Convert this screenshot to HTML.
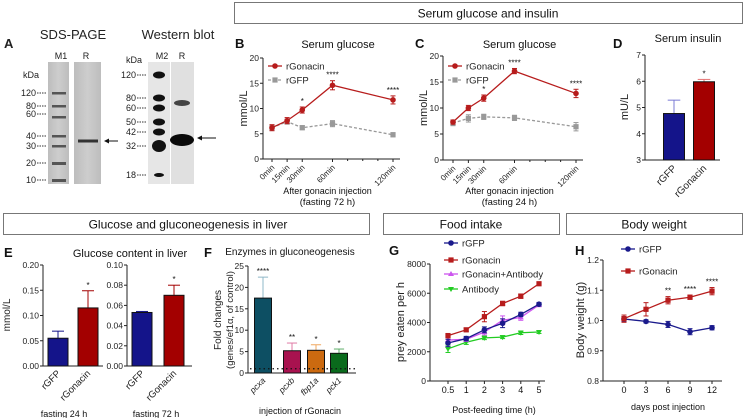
<!DOCTYPE html>
<html><head><meta charset="utf-8"><style>
html,body{margin:0;padding:0;background:#fff;}
svg{display:block;font-family:"Liberation Sans",sans-serif;}
</style></head><body>
<svg id="fig" width="744" height="418" viewBox="0 0 744 418" xmlns="http://www.w3.org/2000/svg">
<defs>
<linearGradient id="gelg" x1="0" x2="1"><stop offset="0" stop-color="#bdbdbd"/><stop offset="0.5" stop-color="#cdcdcd"/><stop offset="1" stop-color="#bdbdbd"/></linearGradient>
</defs>
<!-- Section boxes -->
<rect x="234.5" y="2.5" width="508" height="21" fill="#fff" stroke="#777" stroke-width="1"/>
<text x="488" y="17.5" font-size="12" text-anchor="middle" fill="#111">Serum glucose and insulin</text>
<rect x="3.5" y="213.5" width="366" height="21" fill="#fff" stroke="#777"/>
<text x="188" y="228.5" font-size="12" text-anchor="middle" fill="#111">Glucose and gluconeogenesis in liver</text>
<rect x="383.5" y="213.5" width="176" height="21" fill="#fff" stroke="#777"/>
<text x="471" y="228.5" font-size="12" text-anchor="middle" fill="#111">Food intake</text>
<rect x="566.5" y="213.5" width="176" height="21" fill="#fff" stroke="#777"/>
<text x="654" y="228.5" font-size="12" text-anchor="middle" fill="#111">Body weight</text>

<!-- Panel A gels -->
<g font-size="9" fill="#222">
<text x="4" y="48" font-size="13" font-weight="bold">A</text>
<text x="73" y="39" font-size="13" text-anchor="middle">SDS-PAGE</text>
<text x="178" y="39" font-size="13" text-anchor="middle">Western blot</text>
<text x="61" y="59" text-anchor="middle">M1</text>
<text x="86" y="59" text-anchor="middle">R</text>
<text x="162" y="59" text-anchor="middle">M2</text>
<text x="182" y="59" text-anchor="middle">R</text>
<text x="23" y="78">kDa</text>
<text x="126" y="63">kDa</text>
<rect x="48" y="62" width="21" height="122" fill="url(#gelg)"/>
<rect x="74" y="62" width="27" height="122" fill="url(#gelg)"/>
<g fill="#555">
<rect x="52" y="92" width="14" height="2.5"/><rect x="52" y="105" width="14" height="2.5"/><rect x="52" y="116" width="14" height="2.5"/><rect x="52" y="135" width="14" height="2.5"/><rect x="52" y="145" width="14" height="2.5"/><rect x="52" y="162" width="14" height="3"/><rect x="52" y="179" width="14" height="3"/>
</g>
<rect x="78" y="139.5" width="20" height="3" fill="#333"/>
<g text-anchor="end" font-size="9">
<text x="36" y="96">120</text><text x="36" y="109">80</text><text x="36" y="117">60</text><text x="36" y="139">40</text><text x="36" y="149">30</text><text x="36" y="166">20</text><text x="36" y="183">10</text>
<g stroke="#333" stroke-dasharray="1.5,1"><line x1="37" x2="47" y1="93" y2="93"/><line x1="37" x2="47" y1="106" y2="106"/><line x1="37" x2="47" y1="114" y2="114"/><line x1="37" x2="47" y1="136" y2="136"/><line x1="37" x2="47" y1="146" y2="146"/><line x1="37" x2="47" y1="163" y2="163"/><line x1="37" x2="47" y1="180" y2="180"/></g>
</g>
<g><line x1="118" y1="141" x2="106" y2="141" stroke="#111" stroke-width="1"/><path d="M104,141 l5,-2.5 v5z" fill="#111"/></g>
<rect x="148" y="62" width="22" height="122" fill="#e6e6e6"/>
<rect x="171" y="62" width="23" height="122" fill="#e0e0e0"/>
<g fill="#111">
<ellipse cx="159" cy="75" rx="6" ry="3.5"/><ellipse cx="159" cy="98" rx="6" ry="3.5"/><ellipse cx="159" cy="108" rx="6" ry="3.5"/><ellipse cx="159" cy="122" rx="6" ry="3.5"/><ellipse cx="159" cy="132" rx="6" ry="3.5"/><ellipse cx="159" cy="146" rx="7" ry="6"/><ellipse cx="159" cy="175" rx="5" ry="2"/>
</g>
<ellipse cx="182" cy="103" rx="8" ry="3" fill="#444"/>
<ellipse cx="182" cy="140" rx="12" ry="6" fill="#0a0a0a"/>
<g text-anchor="end" font-size="9">
<text x="136" y="78">120</text><text x="136" y="101">80</text><text x="136" y="111">60</text><text x="136" y="125">50</text><text x="136" y="135">42</text><text x="136" y="149">32</text><text x="136" y="178">18</text>
<g stroke="#333" stroke-dasharray="1.5,1"><line x1="137" x2="147" y1="75" y2="75"/><line x1="137" x2="147" y1="98" y2="98"/><line x1="137" x2="147" y1="108" y2="108"/><line x1="137" x2="147" y1="122" y2="122"/><line x1="137" x2="147" y1="132" y2="132"/><line x1="137" x2="147" y1="146" y2="146"/><line x1="137" x2="147" y1="175" y2="175"/></g>
</g>
<g><line x1="216" y1="138" x2="199" y2="138" stroke="#111"/><path d="M197,138 l5,-2.5 v5z" fill="#111"/></g>
</g>
<g id="charts"></g>
</svg>
<script>
// ---- data ----
const bTimes = [0, 15, 30, 60, 120];
const bGonacin = [6.2, 7.6, 9.7, 14.6, 11.7];
const bGonacinErr = [0.6, 0.6, 0.6, 0.9, 0.8];
const bGFP = [6.2, 7.4, 6.2, 7.0, 4.8];
const bGFPErr = [0.5, 0.5, 0.4, 0.6, 0.4];
const bStars = ["", "", "*", "****", "****"];
const timeLabels = ["0min", "15min", "30min", "60min", "120min"];
const glucoseTicks = [0, 5, 10, 15, 20];

const cGonacin = [7.3, 10.0, 11.9, 17.1, 12.8];
const cGonacinErr = [0.4, 0.5, 0.6, 0.5, 0.8];
const cGFP = [7.1, 8.0, 8.3, 8.1, 6.4];
const cGFPErr = [0.5, 0.7, 0.5, 0.5, 0.8];
const cStars = ["", "", "*", "****", "****"];

const dGroups = ["rGFP", "rGonacin"];
const dValues = [4.77, 5.98];
const dErr = [0.51, 0.09];
const dStars = ["", "*"];
const dTicks = [3, 4, 5, 6, 7];

const eGroups = ["rGFP", "rGonacin"];
const e24Values = [0.055, 0.115];
const e24Err = [0.014, 0.034];
const e24Ticks = [0, 0.05, 0.10, 0.15, 0.20];
const e72Values = [0.053, 0.070];
const e72Err = [0.001, 0.010];
const e72Ticks = [0, 0.02, 0.04, 0.06, 0.08, 0.10];
const eStars = ["", "*"];

const fGenes = ["pcxa", "pcxb", "fbp1a", "pck1"];
const fValues = [17.5, 5.2, 5.3, 4.6];
const fErr = [4.9, 1.8, 1.3, 1.0];
const fStars = ["****", "**", "*", "*"];
const fTicks = [0, 5, 10, 15, 20, 25];

const gTimes = ["0.5", "1", "2", "3", "4", "5"];
const gGFP = [2600, 2900, 3500, 3950, 4550, 5250];
const gGonacin = [3100, 3500, 4400, 5300, 5800, 6650];
const gGonAb = [2800, 2850, 3350, 4150, 4350, 5200];
const gAb = [2200, 2650, 2950, 3000, 3300, 3350];
const gGFPErr = [250, 150, 200, 300, 150, 120];
const gGonErr = [150, 120, 350, 150, 150, 120];
const gGonAbErr = [250, 150, 200, 300, 200, 120];
const gAbErr = [250, 150, 120, 100, 120, 100];
const gTicks = [0, 2000, 4000, 6000, 8000];

const hDays = [0, 3, 6, 9, 12];
const hGFP = [1.005, 0.997, 0.987, 0.963, 0.976];
const hGFPErr = [0.008, 0.005, 0.010, 0.010, 0.007];
const hGonacin = [1.006, 1.037, 1.067, 1.077, 1.097];
const hGonErr = [0.012, 0.022, 0.012, 0.007, 0.012];
const hStars = ["", "", "**", "****", "****"];
const hTicks = [0.8, 0.9, 1.0, 1.1, 1.2];

// ---- helpers ----
const NS = "http://www.w3.org/2000/svg";
const root = document.getElementById("charts");
function mk(tag, attrs, parent) {
  const el = document.createElementNS(NS, tag);
  for (const k in attrs) el.setAttribute(k, attrs[k]);
  (parent || root).appendChild(el);
  return el;
}
function txt(s, attrs, parent) { const t = mk("text", attrs, parent); t.textContent = s; return t; }
function scale(d0, d1, r0, r1) { return v => r0 + (v - d0) * (r1 - r0) / (d1 - d0); }

function yAxis(g, x, y, ticks, fmt, x2, name) {
  const ax = mk("line", {x1: x, x2: x, y1: y(ticks[0]), y2: y(ticks[ticks.length - 1]), stroke: "#222", "stroke-width": 1}, g);
  
  
  ticks.forEach(t => {
    mk("line", {x1: x - 3, x2: x, y1: y(t), y2: y(t), stroke: "#222"}, g);
    const l = txt(fmt(t), {x: x - 4, y: y(t) + 3, "font-size": 8.5, "text-anchor": "end", fill: "#222"}, g);
    
    
  });
  const xa = mk("line", {x1: x, x2: x2, y1: y(ticks[0]), y2: y(ticks[0]), stroke: "#222"}, g);
  
  
}
function errBar(g, x, y0, y1, color, w) {
  mk("line", {x1: x, x2: x, y1: y0, y2: y1, stroke: color, "stroke-width": 1}, g);
  mk("line", {x1: x - w, x2: x + w, y1: y1, y2: y1, stroke: color, "stroke-width": 1}, g);
}
function marker(g, shape, x, y, color) {
  let m;
  if (shape === "circle") m = mk("circle", {cx: x, cy: y, r: 2.8, fill: color}, g);
  else if (shape === "square") m = mk("rect", {x: x - 2.6, y: y - 2.6, width: 5.2, height: 5.2, fill: color}, g);
  else if (shape === "tri") m = mk("path", {d: `M${x},${y - 3} l3,5 h-6z`, fill: color}, g);
  else m = mk("path", {d: `M${x},${y + 3} l3,-5 h-6z`, fill: color}, g);
  return m;
}
function series(g, xs, vals, errs, xf, yf, color, shape, dash, name) {
  const pts = vals.map((v, i) => [xf(xs[i], i), yf(v)]);
  vals.forEach((v, i) => {
    errBar(g, pts[i][0], yf(v), yf(v + errs[i]), color, 2.5);
    errBar(g, pts[i][0], yf(v), yf(v - errs[i]), color, 2.5);
  });
  const pl = mk("polyline", {points: pts.map(p => p.join(",")).join(" "), fill: "none", stroke: color, "stroke-width": 1.3, "stroke-dasharray": dash || "none"}, g);
  
  
  pts.forEach(p => {
    const m = marker(g, shape, p[0], p[1], color);
    
    
  });
}
function legend(g, x, y, label, color, shape, dash) {
  const lg = mk("g", {}, g);
  
  
  mk("line", {x1: x, x2: x + 14, y1: y, y2: y, stroke: color, "stroke-width": 1.3, "stroke-dasharray": dash || "none"}, lg);
  marker(lg, shape, x + 7, y, color);
  txt(label, {x: x + 18, y: y + 3.5, "font-size": 9.5, fill: "#222"}, lg);
}
function rotLabel(g, s, x, y, size, name) {
  const t = txt(s, {x: x, y: y, "font-size": size || 8.5, "text-anchor": "end", transform: `rotate(-45 ${x} ${y})`, fill: "#222"}, g);
  
  
  return t;
}
function vLabel(g, s, x, y, size, name, italicParts) {
  const t = txt(s, {x: x, y: y, "font-size": size, "text-anchor": "middle", transform: `rotate(-90 ${x} ${y})`, fill: "#222"}, g);
  
  
  return t;
}
function label(g, s, x, y, size, name, anchor, weight) {
  const t = txt(s, {x: x, y: y, "font-size": size, "text-anchor": anchor || "middle", fill: "#111", "font-weight": weight || "normal"}, g);
  
  
  return t;
}
const RED = "#b71c1c", GRAY = "#999", BLUE = "#1a1a8c";

// ---- Panel B & C ----
function glucosePanel(letterX, axX, t0x, t120x, gon, gonE, gfp, gfpE, stars, sub, name, y0, y20) {
  const g = mk("g", {});
  
  
  const xf = scale(0, 120, t0x, t120x);
  const yf = scale(0, 20, y0, y20);
  label(g, name === "panel-b" ? "B" : "C", letterX, 48, 13, "panel-letter", "start", "bold");
  label(g, "Serum glucose", (axX + t120x) / 2 + 10, 48, 11, "chart-title");
  yAxis(g, axX, yf, glucoseTicks, v => String(v), t120x + 7, name);
  bTimes.forEach((t, i) => {
    mk("line", {x1: xf(t), x2: xf(t), y1: y0, y2: y0 + 3, stroke: "#222"}, g);
    rotLabel(g, timeLabels[i], xf(t) + 3, y0 + 9, 8, "x-tick-label");
  });
  for (let m = 75; m <= 105; m += 15) mk("line", {x1: xf(m), x2: xf(m), y1: y0, y2: y0 + 2, stroke: "#222"}, g);
  vLabel(g, "mmol/L", axX - 16, (y0 + y20) / 2, 11, "y-axis-title");
  series(g, bTimes, gfp, gfpE, t => xf(t), yf, GRAY, "square", "3,2", name + "-rgfp");
  series(g, bTimes, gon, gonE, t => xf(t), yf, RED, "circle", null, name + "-rgonacin");
  stars.forEach((s, i) => {
    if (s) label(g, s, xf(bTimes[i]), yf(gon[i] + gonE[i]) - 3, 8, "significance-star");
  });
  legend(g, axX + 5, 66, "rGonacin", RED, "circle");
  legend(g, axX + 5, 80, "rGFP", GRAY, "square", "3,2");
  label(g, "After gonacin injection", (t0x + t120x) / 2 - 5, 194, 9, "x-axis-title");
  label(g, sub, (t0x + t120x) / 2 - 5, 205, 9.5, "x-axis-subtitle");
}
glucosePanel(235, 263, 272, 393, bGonacin, bGonacinErr, bGFP, bGFPErr, bStars, "(fasting 72 h)", "panel-b", 159, 58);
glucosePanel(415, 443, 453, 576, cGonacin, cGonacinErr, cGFP, cGFPErr, cStars, "(fasting 24 h)", "panel-c", 160, 56);

// ---- Bar helper ----
function bars(g, cats, vals, errs, stars, xs, w, yf, colors, name, errColors) {
  vals.forEach((v, i) => {
    const ec = (errColors || colors)[i];
    errBar(g, xs[i], yf(v), yf(v + errs[i]), ec, w * 0.3);
    const b = mk("rect", {x: xs[i] - w / 2, y: yf(v), width: w, height: yf(0 in {} ? 0 : cats.base) - yf(v), fill: colors[i], stroke: "#111", "stroke-width": 1}, g);
    
    
    if (stars[i]) label(g, stars[i], xs[i], yf(v + errs[i]) - 3, 8, "significance-star");
  });
}

// ---- Panel D ----
(function () {
  const g = mk("g", {});
  
  
  const yf = scale(3, 7, 160, 55);
  label(g, "D", 613, 48, 13, "panel-letter", "start", "bold");
  label(g, "Serum insulin", 688, 42, 11, "chart-title");
  yAxis(g, 645, yf, dTicks, v => String(v), 720, "panel-d");
  vLabel(g, "mU/L", 628, 107, 11, "y-axis-title");
  const xs = [674, 704];
  bars(g, {list: dGroups, base: 3}, dValues, dErr, dStars, xs, 21, yf, ["#14148a", "#a30000"], "insulin", ["#7b7bd6", "#e57373"]);
  dGroups.forEach((c, i) => rotLabel(g, c, xs[i] + 3, 169, 10, "x-tick-label"));
})();

// ---- Panel E ----
(function () {
  const g = mk("g", {});
  
  
  label(g, "E", 4, 257, 13, "panel-letter", "start", "bold");
  label(g, "Glucose content in liver", 130, 257, 11, "chart-title");
  vLabel(g, "mmol/L", 10, 315, 10, "y-axis-title");
  const y1 = scale(0, 0.20, 366, 265);
  yAxis(g, 43, y1, e24Ticks, v => v.toFixed(2), 103, "panel-e-24h");
  const xs1 = [58, 88];
  bars(g, {list: eGroups, base: 0}, e24Values, e24Err, eStars, xs1, 20, y1, ["#14148a", "#a30000"], "liver-24h");
  eGroups.forEach((c, i) => rotLabel(g, c, xs1[i] + 3, 374, 9.5, "x-tick-label"));
  label(g, "fasting 24 h", 64, 417, 9, "x-axis-title");
  const y2 = scale(0, 0.10, 366, 265);
  yAxis(g, 127, y2, e72Ticks, v => v.toFixed(2), 192, "panel-e-72h");
  const xs2 = [142, 174];
  bars(g, {list: eGroups, base: 0}, e72Values, e72Err, eStars, xs2, 20, y2, ["#14148a", "#a30000"], "liver-72h");
  eGroups.forEach((c, i) => rotLabel(g, c, xs2[i] + 3, 374, 9.5, "x-tick-label"));
  label(g, "fasting 72 h", 156, 417, 9, "x-axis-title");
})();

// ---- Panel F ----
(function () {
  const g = mk("g", {});
  
  
  label(g, "F", 204, 257, 13, "panel-letter", "start", "bold");
  label(g, "Enzymes in gluconeogenesis", 290, 255, 10, "chart-title");
  const yf = scale(0, 25, 373, 266);
  yAxis(g, 248, yf, fTicks, v => String(v), 356, "panel-f");
  const xs = [263, 292, 316, 339];
  bars(g, {list: fGenes, base: 0}, fValues, fErr, fStars, xs, 17, yf, ["#0d4f63", "#a8124f", "#cc6a10", "#0a6a1c"], "enzyme", ["#8fb8c8", "#e07aa6", "#f0a860", "#5fae6a"]);
  const dl = mk("line", {x1: 250, x2: 356, y1: yf(1), y2: yf(1), stroke: "#111", "stroke-width": 1.3, "stroke-dasharray": "1.5,3"}, g);
  
  
  fGenes.forEach((c, i) => { const t = rotLabel(g, c, xs[i] + 3, 381, 8.5, "x-tick-label"); t.setAttribute("font-style", "italic"); });
  vLabel(g, "Fold changes", 221, 320, 10, "y-axis-title");
  vLabel(g, "(genes/ef1α, of control)", 233, 320, 9.5, "y-axis-subtitle");
  label(g, "injection of rGonacin", 300, 414, 9, "x-axis-title");
})();

// ---- Panel G ----
(function () {
  const g = mk("g", {});
  
  
  label(g, "G", 389, 255, 13, "panel-letter", "start", "bold");
  const yf = scale(0, 8000, 381, 264);
  const xf = (t, i) => 448 + i * 18.2;
  yAxis(g, 430, yf, gTicks, v => String(v), 545, "panel-g");
  gTimes.forEach((t, i) => {
    mk("line", {x1: xf(t, i), x2: xf(t, i), y1: 381, y2: 384, stroke: "#222"}, g);
    label(g, t, xf(t, i), 393, 9, "x-tick-label");
  });
  series(g, gTimes, gAb, gAbErr, xf, yf, "#22cc22", "tridown", null, "antibody");
  series(g, gTimes, gGonAb, gGonAbErr, xf, yf, "#cc55ee", "tri", null, "rgonacin-antibody");
  series(g, gTimes, gGFP, gGFPErr, xf, yf, BLUE, "circle", null, "rgfp");
  series(g, gTimes, gGonacin, gGonErr, xf, yf, RED, "square", null, "rgonacin");
  legend(g, 444, 243, "rGFP", BLUE, "circle");
  legend(g, 444, 260, "rGonacin", RED, "square");
  legend(g, 444, 274, "rGonacin+Antibody", "#cc55ee", "tri");
  legend(g, 444, 289, "Antibody", "#22cc22", "tridown");
  vLabel(g, "prey eaten per h", 404, 322, 11, "y-axis-title");
  label(g, "Post-feeding time (h)", 494, 413, 9, "x-axis-title");
})();

// ---- Panel H ----
(function () {
  const g = mk("g", {});
  
  
  label(g, "H", 575, 255, 13, "panel-letter", "start", "bold");
  const yf = scale(0.8, 1.2, 381, 260);
  const xf = scale(0, 12, 624, 712);
  yAxis(g, 603, yf, hTicks, v => v.toFixed(1), 722, "panel-h");
  hDays.forEach(d => {
    mk("line", {x1: xf(d), x2: xf(d), y1: 381, y2: 384, stroke: "#222"}, g);
    label(g, String(d), xf(d), 393, 9, "x-tick-label");
  });
  series(g, hDays, hGFP, hGFPErr, d => xf(d), yf, BLUE, "circle", null, "rgfp");
  series(g, hDays, hGonacin, hGonErr, d => xf(d), yf, RED, "square", null, "rgonacin");
  hStars.forEach((s, i) => { if (s) label(g, s, xf(hDays[i]), yf(hGonacin[i] + hGonErr[i]) - 3, 8, "significance-star"); });
  legend(g, 621, 249, "rGFP", BLUE, "circle");
  legend(g, 621, 271, "rGonacin", RED, "square");
  vLabel(g, "Body weight (g)", 584, 320, 11, "y-axis-title");
  label(g, "days post injection", 668, 410, 9, "x-axis-title");
})();
</script>
</body></html>
